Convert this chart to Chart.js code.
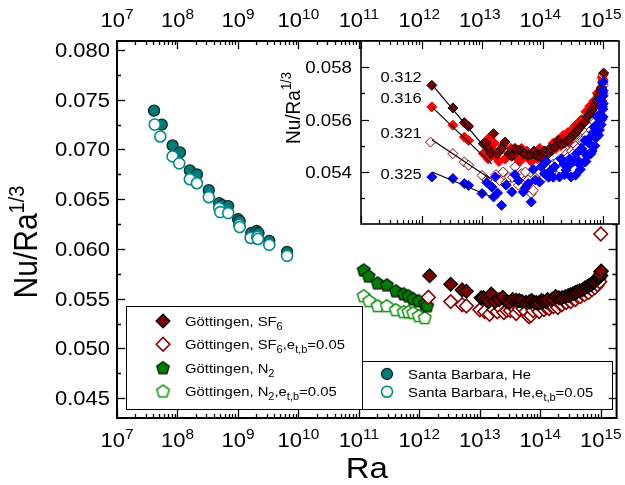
<!DOCTYPE html>
<html><head><meta charset="utf-8">
<script src="https://cdn.jsdelivr.net/npm/chart.js@4.4.0/dist/chart.umd.min.js"></script>
<style>
body{margin:0;background:#fff}
#wrap{position:relative;width:625px;height:485px}
#wrap canvas{position:absolute;left:0;top:0}
</style>
</head><body>
<div id="wrap"><canvas id="main" width="625" height="485"></canvas><canvas id="inset" width="625" height="485"></canvas></div>
<script>
// ---------------- data ----------------
const decades = [1e7,1e8,1e9,1e10,1e11,1e12,1e13,1e14,1e15];
const decadeExp = ['7','8','9','10','11','12','13','14','15'];
const minorMult = [2,3,4,5,6,7,8,9];
const yMajorMain = [0.045,0.050,0.055,0.060,0.065,0.070,0.075,0.080];
const yLabelsMain = ['0.045','0.050','0.055','0.060','0.065','0.070','0.075','0.080'];
const yMajorInset = [0.054,0.056,0.058];
const yLabelsInset = ['0.054','0.056','0.058'];

// Santa Barbara, He
const sbRa  = [4.1e7,5.5e7,8.3e7,1.1e8,1.6e8,2.1e8,3.3e8,4.9e8,5.5e8,6.9e8,1.0e9,1.07e9,1.66e9,2.04e9,2.19e9,3.3e9,6.5e9];
const sbNu  = [0.0739,0.0725,0.0704,0.0697,0.0679,0.0675,0.0659,0.0646,0.0644,0.0643,0.0630,0.0628,0.0616,0.0618,0.0616,0.0608,0.0597];
const sbRaE = [4.2e7,5.2e7,8.3e7,1.07e8,1.6e8,2.1e8,3.3e8,4.9e8,5.1e8,6.9e8,1.05e9,1.07e9,1.62e9,2.09e9,2.14e9,3.3e9,6.5e9];
const sbNuE = [0.0725,0.0713,0.0693,0.0686,0.0670,0.0666,0.0652,0.0641,0.0637,0.0636,0.0624,0.0622,0.0611,0.0612,0.0610,0.0604,0.0593];

// Göttingen, N2
const n2Ra  = [1.2e11,1.45e11,2.04e11,2.9e11,4.1e11,5.5e11,6.6e11,7.9e11,9.8e11,1.23e12,1.35e12];
const n2Nu  = [0.0579,0.0573,0.0566,0.0564,0.0558,0.0555,0.0553,0.0550,0.0548,0.0545,0.0543];
const n2RaE = [1.2e11,1.48e11,2.04e11,2.9e11,4.1e11,5.5e11,6.6e11,7.9e11,9.8e11,1.23e12];
const n2NuE = [0.0553,0.0548,0.0543,0.0543,0.0539,0.0537,0.0537,0.0536,0.0533,0.0531];

// Göttingen, SF6 (inset gamma 0.312) – filled
const sfRa = [1.48e12,3.3e12,5.1e12,6.0e12,1.05e13,1.15e13,1.26e13,1.4e13,1.55e13,1.78e13,2.1e13,2.4e13,2.8e13,3.1e13,3.5e13,4.0e13,4.5e13,5.0e13,5.8e13,6.6e13,7.2e13,7.9e13,8.6e13,9.5e13,1.05e14,1.12e14,1.25e14,1.32e14,1.58e14,1.8e14,2.04e14,2.3e14,2.6e14,2.9e14,3.2e14,3.5e14,3.8e14,4.1e14,4.5e14,5.0e14,5.5e14,6.0e14,6.3e14,6.7e14,7.1e14,7.5e14,7.9e14,8.5e14,9.1e14,9.5e14,9.8e14,1.02e15];
const sfNu = [0.0573,0.05644,0.05588,0.05574,0.05508,0.0551,0.0549,0.0547,0.05546,0.0547,0.0549,0.05514,0.0547,0.0546,0.0549,0.05483,0.0548,0.0547,0.05464,0.05468,0.0548,0.05464,0.0546,0.05457,0.0548,0.0547,0.0547,0.0549,0.05495,0.0552,0.05508,0.0551,0.05521,0.0553,0.0554,0.0555,0.0556,0.0557,0.0558,0.0559,0.0561,0.0562,0.0563,0.0564,0.05648,0.0566,0.0567,0.0569,0.05711,0.0572,0.0574,0.05777];
// Göttingen, SF6 e_t,b=0.05 (inset gamma 0.321) – open
const sfRaE = [1.41e12,3.3e12,5.1e12,6.0e12,1.0e13,1.2e13,1.45e13,1.7e13,1.95e13,2.24e13,2.5e13,2.8e13,3.2e13,3.5e13,4.0e13,4.5e13,5.2e13,5.8e13,6.5e13,7.0e13,7.6e13,8.9e13,9.6e13,1.05e14,1.15e14,1.26e14,1.4e14,1.5e14,1.65e14,1.78e14,1.95e14,2.1e14,2.3e14,2.5e14,2.7e14,3.0e14,3.2e14,3.5e14,3.8e14,4.2e14,4.6e14,5.0e14,5.4e14,5.9e14,6.3e14,6.8e14,7.2e14,7.6e14,8.0e14,8.5e14,8.8e14,9.3e14,9.6e14,1.0e15,1.0e15,1.0e15];
const sfNuE = [0.05514,0.0547,0.05438,0.05426,0.05387,0.0537,0.05343,0.0539,0.05368,0.0540,0.0536,0.0538,0.0538,0.0542,0.0535,0.05394,0.0540,0.0537,0.05318,0.0533,0.0538,0.0540,0.0537,0.0542,0.0539,0.0541,0.0540,0.0543,0.0542,0.0544,0.0541,0.0545,0.0544,0.0547,0.0546,0.0548,0.0547,0.0550,0.0549,0.0552,0.0552,0.0555,0.0554,0.0557,0.0556,0.0560,0.0559,0.0563,0.0561,0.0566,0.0564,0.0570,0.0567,0.0573,0.0577,0.0615];
// inset: gamma 0.316 (red)
const g316Ra = [1.48e12,3.3e12,5.1e12,6.0e12,1.05e13,1.1e13,1.26e13,1.3e13,1.45e13,1.6e13,1.66e13,1.9e13,2.0e13,2.2e13,2.4e13,2.8e13,3.0e13,3.5e13,3.8e13,4.2e13,4.5e13,5.0e13,5.5e13,6.0e13,6.5e13,7.1e13,8.3e13,9.0e13,1.0e14,1.1e14,1.2e14,1.41e14,1.5e14,1.66e14,1.8e14,2.0e14,2.2e14,2.4e14,2.6e14,2.8e14,3.0e14,3.3e14,3.6e14,4.0e14,4.4e14,4.8e14,5.2e14,5.6e14,6.0e14,6.6e14,7.0e14,7.6e14,8.0e14,8.5e14,9.0e14,9.3e14,9.6e14,1.0e15,1.0e15,1.0e15];
const g316Nu = [0.05648,0.05578,0.05533,0.0552,0.0547,0.0551,0.0545,0.0553,0.0549,0.0551,0.0546,0.0544,0.0548,0.0550,0.0545,0.0547,0.0549,0.0546,0.0548,0.0544,0.0549,0.0546,0.0548,0.0545,0.0544,0.0547,0.0545,0.0549,0.0546,0.0548,0.0547,0.0548,0.0551,0.0549,0.0552,0.0550,0.0554,0.0552,0.0555,0.0551,0.0556,0.0554,0.0558,0.0556,0.0560,0.0558,0.0563,0.0560,0.0565,0.0563,0.0567,0.0566,0.0570,0.0569,0.0565,0.0572,0.0576,0.0575,0.0570,0.0566];
// inset: gamma 0.325 (blue)
const g325Ra = [1.48e12,3.3e12,5.1e12,6.0e12,1.0e13,1.2e13,1.45e13,1.55e13,1.66e13,1.8e13,2.1e13,2.5e13,3.1e13,3.5e13,4.0e13,4.8e13,5.2e13,5.8e13,6.5e13,7.0e13,7.6e13,8.9e13,9.5e13,1.07e14,1.15e14,1.26e14,1.38e14,1.5e14,1.58e14,1.9e14,2.0e14,2.24e14,2.3e14,2.45e14,2.6e14,2.8e14,2.95e14,3.2e14,3.5e14,3.6e14,3.8e14,4.0e14,4.2e14,4.4e14,4.6e14,4.9e14,5.0e14,5.2e14,5.5e14,5.8e14,6.0e14,6.3e14,6.6e14,6.8e14,7.1e14,7.3e14,7.6e14,7.8e14,8.1e14,8.4e14,8.7e14,8.9e14,9.1e14,9.3e14,9.5e14,9.7e14,1.0e15,1.0e15,1.0e15,1.0e15,1.0e15,1.0e15];
const g325Nu = [0.05381,0.05375,0.05356,0.05349,0.05318,0.0536,0.05343,0.05305,0.05381,0.0532,0.05273,0.0535,0.05324,0.0539,0.05368,0.05324,0.0534,0.05356,0.05286,0.0541,0.0537,0.05362,0.0542,0.05394,0.0544,0.0538,0.05407,0.0538,0.0542,0.05381,0.0545,0.0543,0.0539,0.05407,0.0542,0.0545,0.05381,0.0544,0.05388,0.0547,0.05445,0.0543,0.0541,0.0549,0.0548,0.05438,0.0552,0.0544,0.0546,0.0551,0.0553,0.0547,0.0548,0.0555,0.05571,0.0550,0.0553,0.0558,0.0561,0.0554,0.0556,0.0562,0.05673,0.0558,0.0560,0.0565,0.05743,0.0564,0.0566,0.0561,0.0569,0.0571];
// fit lines (start/end)
const fitRa312 = [1.48e12,1.35e13], fitNu312 = [0.05734,0.0547];
const fitRa316 = [1.48e12,1.45e13], fitNu316 = [0.05648,0.0543];
const fitRa321 = [1.48e12,1.35e13], fitNu321 = [0.05523,0.05375];
const fitRa325 = [1.5e12,1.45e13],  fitNu325 = [0.0540,0.05305];
const gammaLabels = ['0.312','0.316','0.321','0.325'];
const gammaLabelNu = [0.05762,0.05682,0.05549,0.05392];
const gammaLabelRa = 4.6e11;

// ---------------- helpers ----------------
const FONT = '"Liberation Sans", Arial, sans-serif';
const SX = 1.1;
const pts = (xs, ys) => xs.map((x, i) => ({x, y: ys[i]}));
function partsWidth(ctx, parts){
  let w = 0;
  for (const p of parts){ ctx.font = p.s + 'px ' + FONT; w += ctx.measureText(p.t).width; }
  return w;
}
function drawRich(ctx, parts, x, y, align, rot){
  ctx.save();
  ctx.translate(x, y);
  ctx.scale(SX, 1);
  if (rot) ctx.rotate(rot);
  const w = partsWidth(ctx, parts);
  let cx = align === 'center' ? -w/2 : (align === 'right' ? -w : 0);
  ctx.textAlign = 'left'; ctx.textBaseline = 'alphabetic'; ctx.fillStyle = '#000';
  for (const p of parts){
    ctx.font = p.s + 'px ' + FONT;
    ctx.fillText(p.t, cx, p.dy || 0);
    cx += ctx.measureText(p.t).width;
  }
  ctx.restore();
}
function line(ctx, x1, y1, x2, y2){ ctx.beginPath(); ctx.moveTo(x1, y1); ctx.lineTo(x2, y2); ctx.stroke(); }
function pentagon(fill, stroke, r, lw){
  const s = Math.ceil(2*r + lw*2 + 2);
  const c = document.createElement('canvas'); c.width = s; c.height = s;
  const g = c.getContext('2d');
  g.beginPath();
  for (let i = 0; i < 5; i++){
    const a = -Math.PI/2 + i*2*Math.PI/5;
    const px = s/2 + r*Math.cos(a), py = s/2 + r*Math.sin(a) + r*0.1;
    if (i) g.lineTo(px, py); else g.moveTo(px, py);
  }
  g.closePath(); g.fillStyle = fill; g.fill(); g.lineWidth = lw; g.strokeStyle = stroke; g.stroke();
  return c;
}
const pentFilled = pentagon('#008000', '#0a1a0a', 6.6, 1.3);
const pentOpen = pentagon('#ffffff', '#0a920a', 6.6, 1.5);

const styles = {
  sf:   {pointStyle:'rectRot', radius:6.8, bg:'#7b0000', bd:'#000000', bw:1.4},
  sfE:  {pointStyle:'rectRot', radius:6.8, bg:'#ffffff', bd:'#8b0000', bw:1.6},
  n2:   {pointStyle:pentFilled, radius:6.6, bg:'#008000', bd:'#000', bw:1},
  n2E:  {pointStyle:pentOpen, radius:6.6, bg:'#fff', bd:'#0a920a', bw:1},
  sb:   {pointStyle:'circle', radius:5.5, bg:'#007b7b', bd:'#0b2626', bw:1.3},
  sbE:  {pointStyle:'circle', radius:5.5, bg:'#ffffff', bd:'#008b8b', bw:1.6}
};
function ds(label, data, st, order){
  return {label, data, pointStyle: st.pointStyle, pointRadius: st.radius, pointBackgroundColor: st.bg,
    pointBorderColor: st.bd, pointBorderWidth: st.bw, backgroundColor: st.bg, borderColor: st.bd, showLine:false, order};
}

function xTicks(ctx, xs, a, top, bottom){
  decades.forEach(d => {
    if (d >= xs.min && d <= xs.max){
      const px = Math.round(xs.getPixelForValue(d)) + 0.5;
      if (bottom) line(ctx, px, a.bottom, px, a.bottom - 8);
      if (top) line(ctx, px, a.top, px, a.top + 8);
    }
    minorMult.forEach(m => {
      const v = d*m;
      if (v >= xs.min && v <= xs.max){
        const p = Math.round(xs.getPixelForValue(v)) + 0.5;
        if (bottom) line(ctx, p, a.bottom, p, a.bottom - 4);
        if (top) line(ctx, p, a.top, p, a.top + 4);
      }
    });
  });
}
function yTicks(ctx, ys, a, majors, minorStep, right){
  majors.forEach(v => {
    const py = Math.round(ys.getPixelForValue(v)) + 0.5;
    line(ctx, a.left, py, a.left + 8, py);
    if (right) line(ctx, a.right, py, a.right - 8, py);
    [v - minorStep, v + minorStep].forEach(m => {
      if (m > ys.min && m < ys.max && !majors.some(q => Math.abs(q - m) < 1e-9)){
        const pm = Math.round(ys.getPixelForValue(m)) + 0.5;
        line(ctx, a.left, pm, a.left + 4, pm);
        if (right) line(ctx, a.right, pm, a.right - 4, pm);
      }
    });
  });
}

const SUB = 10, LF = 13.5;
const legend1 = [
  {st: styles.sf,  parts: [{t:'Göttingen, SF', s:LF},{t:'6', s:SUB, dy:4}]},
  {st: styles.sfE, parts: [{t:'Göttingen, SF', s:LF},{t:'6', s:SUB, dy:4},{t:',e', s:LF},{t:'t,b', s:SUB, dy:4},{t:'=0.05', s:LF}]},
  {st: styles.n2,  parts: [{t:'Göttingen, N', s:LF},{t:'2', s:SUB, dy:4}]},
  {st: styles.n2E, parts: [{t:'Göttingen, N', s:LF},{t:'2', s:SUB, dy:4},{t:',e', s:LF},{t:'t,b', s:SUB, dy:4},{t:'=0.05', s:LF}]}
];
const legend2 = [
  {st: styles.sb,  parts: [{t:'Santa Barbara, He', s:LF}]},
  {st: styles.sbE, parts: [{t:'Santa Barbara, He,e', s:LF},{t:'t,b', s:SUB, dy:4},{t:'=0.05', s:LF}]}
];
function drawLegend(ctx, items, box, mx, tx, y0, dy){
  ctx.fillStyle = '#fff'; ctx.fillRect(box[0], box[1], box[2], box[3]);
  ctx.strokeStyle = '#000'; ctx.lineWidth = 1; ctx.strokeRect(box[0] + 0.5, box[1] + 0.5, box[2], box[3]);
  items.forEach((it, i) => {
    const y = y0 + i*dy;
    ctx.save();
    ctx.fillStyle = it.st.bg; ctx.strokeStyle = it.st.bd; ctx.lineWidth = it.st.bw;
    Chart.helpers.drawPoint(ctx, {pointStyle: it.st.pointStyle, radius: it.st.radius, rotation: 0, borderWidth: it.st.bw}, mx, y);
    ctx.restore();
    drawRich(ctx, it.parts, tx, y + 5, 'left');
  });
}

const mainDecor = {
  id: 'mainDecor',
  afterDraw(chart){
    const ctx = chart.ctx, a = chart.chartArea, xs = chart.scales.x, ys = chart.scales.y;
    ctx.save();
    drawLegend(ctx, legend1, [126, 306, 236, 103], 163, 185, 321, 23.3);
    drawLegend(ctx, legend2, [362, 361, 250, 48], 387, 408, 374, 17.7);
    ctx.strokeStyle = '#000'; ctx.lineWidth = 1.3;
    xTicks(ctx, xs, a, true, true);
    yTicks(ctx, ys, a, yMajorMain, 0.0025, true);
    ctx.lineWidth = 2;
    ctx.strokeRect(a.left, a.top, a.right - a.left, a.bottom - a.top);
    decades.forEach((d, i) => {
      const px = xs.getPixelForValue(d);
      const parts = [{t:'10', s:20},{t:decadeExp[i], s:14, dy:-8}];
      drawRich(ctx, parts, px, 27, 'center');
      drawRich(ctx, parts, px, 447, 'center');
    });
    yMajorMain.forEach((v, i) => {
      drawRich(ctx, [{t:yLabelsMain[i], s:20}], 110, ys.getPixelForValue(v) + 7, 'right');
    });
    drawRich(ctx, [{t:'Ra', s:30}], (a.left + a.right)/2, 478, 'center');
    drawRich(ctx, [{t:'Nu/Ra', s:30},{t:'1/3', s:20, dy:-12}], 37, 242, 'center', -Math.PI/2);
    ctx.restore();
  }
};

new Chart(document.getElementById('main'), {
  type: 'scatter',
  data: { datasets: [
    ds('Göttingen, SF6', pts(sfRa, sfNu), styles.sf, 1),
    ds('Göttingen, SF6,e=0.05', pts(sfRaE, sfNuE), styles.sfE, 2),
    ds('Göttingen, N2', pts(n2Ra, n2Nu), styles.n2, 3),
    ds('Göttingen, N2,e=0.05', pts(n2RaE, n2NuE), styles.n2E, 4),
    ds('Santa Barbara, He', pts(sbRa, sbNu), styles.sb, 6),
    ds('Santa Barbara, He,e=0.05', pts(sbRaE, sbNuE), styles.sbE, 5)
  ]},
  options: {
    responsive: false, animation: false, events: [],
    layout: { padding: { left: 117, right: 3, top: 41, bottom: 67 } },
    plugins: { legend: {display:false}, tooltip: {enabled:false} },
    scales: {
      x: { type: 'logarithmic', min: 1e7, max: 1.83e15, display: false },
      y: { type: 'linear', min: 0.0430, max: 0.0809, display: false }
    }
  },
  plugins: [mainDecor]
});

// ---------------- inset ----------------
const insetStyles = {
  g312: {pointStyle:'rectRot', radius:5, bg:'#7b0000', bd:'#000000', bw:1},
  g316: {pointStyle:'rectRot', radius:5, bg:'#ff0000', bd:'#ff0000', bw:1},
  g321: {pointStyle:'rectRot', radius:5, bg:'#ffffff', bd:'#8b0000', bw:1},
  g325: {pointStyle:'rectRot', radius:5, bg:'#0000ff', bd:'#0000ff', bw:1}
};
function fitLine(label, xs, ys){
  return {label, type:'line', data: pts(xs, ys), borderColor:'#000', borderWidth:1.2, pointRadius:0, showLine:true, fill:false, order:0};
}
const insetDecor = {
  id: 'insetDecor',
  beforeDatasetsDraw(chart){
    const ctx = chart.ctx, a = chart.chartArea;
    ctx.save(); ctx.fillStyle = '#fff'; ctx.fillRect(a.left, a.top, a.right - a.left, a.bottom - a.top); ctx.restore();
  },
  afterDraw(chart){
    const ctx = chart.ctx, a = chart.chartArea, xs = chart.scales.x, ys = chart.scales.y;
    ctx.save();
    ctx.strokeStyle = '#000'; ctx.lineWidth = 1.2;
    xTicks(ctx, xs, a, true, true);
    yTicks(ctx, ys, a, yMajorInset, 0.001, true);
    ctx.lineWidth = 1.6;
    ctx.strokeRect(a.left, a.top, a.right - a.left, a.bottom - a.top);
    yMajorInset.forEach((v, i) => {
      drawRich(ctx, [{t:yLabelsInset[i], s:17}], 352, ys.getPixelForValue(v) + 6, 'right');
    });
    drawRich(ctx, [{t:'Nu/Ra', s:19},{t:'1/3', s:13, dy:-8}], 300, 108, 'center', -Math.PI/2);
    gammaLabels.forEach((g, i) => {
      drawRich(ctx, [{t:g, s:15}], xs.getPixelForValue(gammaLabelRa), ys.getPixelForValue(gammaLabelNu[i]) + 5, 'center');
    });
    ctx.restore();
  }
};
new Chart(document.getElementById('inset'), {
  type: 'scatter',
  data: { datasets: [
    fitLine('fit 0.312', fitRa312, fitNu312),
    fitLine('fit 0.316', fitRa316, fitNu316),
    fitLine('fit 0.321', fitRa321, fitNu321),
    fitLine('fit 0.325', fitRa325, fitNu325),
    ds('0.325', pts(g325Ra, g325Nu), insetStyles.g325, 1),
    ds('0.312', pts(sfRa, sfNu), insetStyles.g312, 2),
    ds('0.321', pts(sfRaE, sfNuE), insetStyles.g321, 3),
    ds('0.316', pts(g316Ra, g316Nu), insetStyles.g316, 4)
  ]},
  options: {
    responsive: false, animation: false, events: [],
    layout: { padding: { left: 361, right: 3, top: 41, bottom: 261 } },
    plugins: { legend: {display:false}, tooltip: {enabled:false} },
    scales: {
      x: { type: 'logarithmic', min: 1e11, max: 1.83e15, display: false },
      y: { type: 'linear', min: 0.05202, max: 0.05899, display: false }
    }
  },
  plugins: [insetDecor]
});
</script>
</body></html>
